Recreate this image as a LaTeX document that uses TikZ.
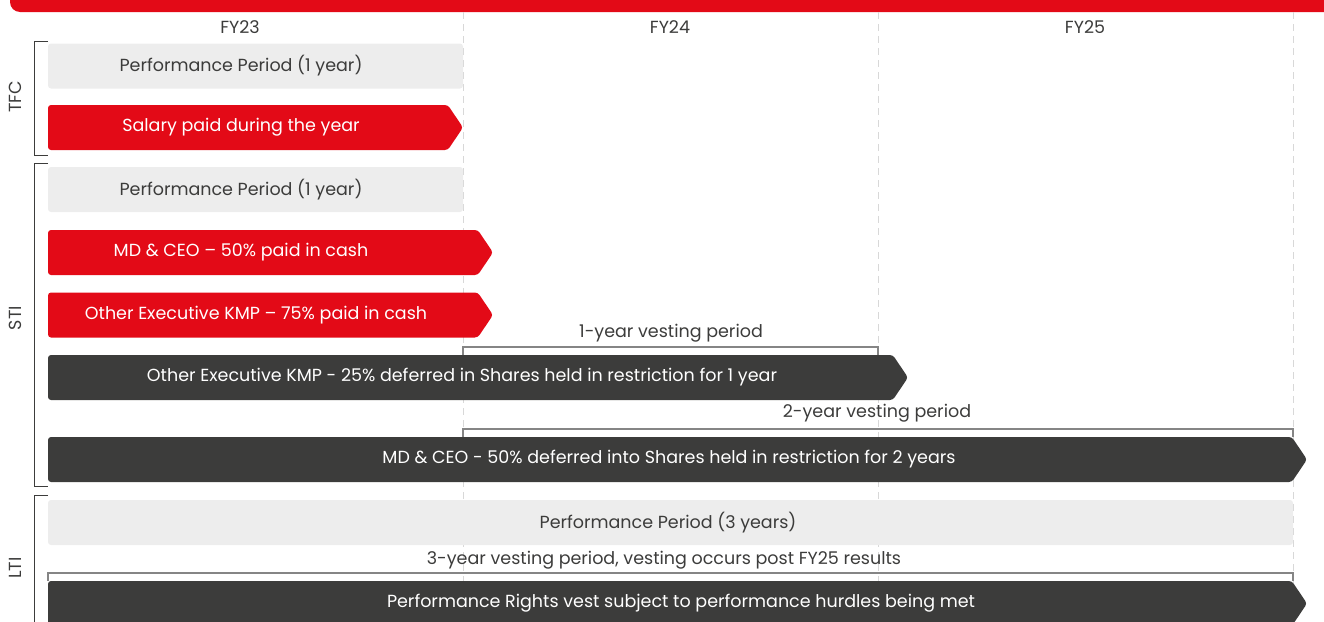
\documentclass[tikz,border=0pt]{standalone}
\usepackage{fontspec}
\setmainfont{Poppins}
\usetikzlibrary{shapes.symbols}
\definecolor{brandred}{HTML}{E30A17}
\definecolor{barDark}{HTML}{3C3C3B}
\definecolor{barLight}{HTML}{EDEDED}
\definecolor{gridGray}{HTML}{D8D8D8}
\definecolor{txtDark}{HTML}{3C3C3B}
\definecolor{vestGray}{HTML}{858585}
\begin{document}
\begin{tikzpicture}[x=1pt,y=-1pt,
  arrowbar/.style={shape=signal, signal to=east, signal pointer angle=112,
    inner sep=0pt, outer sep=0pt, minimum height=45pt, rounded corners=3pt, anchor=west},
  redarrow/.style={arrowbar, fill=brandred},
  darkarrow/.style={arrowbar, fill=barDark},
  greybox/.style={rectangle, fill=barLight, rounded corners=3pt, minimum height=45pt,
    inner sep=0pt, outer sep=0pt, anchor=west},
  lbl/.style={font=\fontsize{17.5}{20}\selectfont, text=txtDark, inner sep=0pt},
  wlbl/.style={font=\fontsize{17.5}{20}\selectfont, text=white, inner sep=0pt},
  grid/.style={draw=gridGray, line width=1pt, dash pattern=on 7pt off 5pt},
  vest/.style={draw=vestGray, line width=1.2pt},
  brack/.style={draw=txtDark, line width=0.9pt},
]
\useasboundingbox (0,0) rectangle (1324,621);
% top banner
\fill[brandred, rounded corners=10pt] (10,-30) -- (10,12) -- (1350,12) -- (1350,-30) -- cycle;
% grid lines
\draw[grid] (463,12) -- (463,621);
\draw[grid] (878,12) -- (878,621);
\draw[grid] (1293,12) -- (1293,621);
% years
\node[lbl] (fy23) at (240,27) {FY23};
\node[lbl] (fy24) at (670,27) {FY24};
\node[lbl] (fy25) at (1085,27) {FY25};
% group brackets
\draw[brack] (48,41) -- (34,41) -- (34,155) -- (48,155);
\draw[brack] (48,163) -- (34,163) -- (34,486) -- (48,486);
\draw[brack] (48,495) -- (34,495) -- (34,640);
\node[lbl, rotate=90] (tfc) at (15,97) {TFC};
\node[lbl, rotate=90] (sti) at (15,318) {STI};
\node[lbl, rotate=90] (lti) at (15,568) {LTI};
% TFC
\node[greybox, minimum width=415pt] (tfcperf) at (48,66) {};
\node[lbl] at (241,66) {Performance Period (1 year)};
\node[redarrow, minimum width=415pt] (salary) at (48,127.5) {};
\node[wlbl] at (241,127.5) {Salary paid during the year};
% STI
\node[greybox, minimum width=415pt] (stiperf) at (48,189.5) {};
\node[lbl] at (241,189.5) {Performance Period (1 year)};
\node[redarrow, minimum width=445pt] (mdcash) at (48,252.5) {};
\node[wlbl] at (241,252.5) {MD \& CEO – 50\% paid in cash};
\node[redarrow, minimum width=445pt] (kmpcash) at (48,315) {};
\node[wlbl] at (256,315) {Other Executive KMP – 75\% paid in cash};
\draw[vest] (463,355) -- (463,347) -- (878,347) -- (878,355);
\node[lbl] (v1) at (671,333) {1-year vesting period};
\node[darkarrow, minimum width=860pt] (kmpdef) at (48,377.5) {};
\node[wlbl] at (462,377.5) {Other Executive KMP - 25\% deferred in Shares held in restriction for 1 year};
\draw[vest] (463,437) -- (463,429) -- (1293,429) -- (1293,437);
\node[lbl] (v2) at (877,413) {2-year vesting period};
\node[darkarrow, minimum width=1259pt] (mddef) at (48,459.5) {};
\node[wlbl] at (669,459.5) {MD \& CEO - 50\% deferred into Shares held in restriction for 2 years};
% LTI
\node[greybox, minimum width=1245pt] (ltiperf) at (48,522.5) {};
\node[lbl] at (668,522.5) {Performance Period (3 years)};
\draw[vest] (48,581) -- (48,573) -- (1293,573) -- (1293,581);
\node[lbl] (v3) at (664,560) {3-year vesting period, vesting occurs post FY25 results};
\node[darkarrow, minimum width=1259pt] (rights) at (48,603.5) {};
\node[wlbl] at (681,603.5) {Performance Rights vest subject to performance hurdles being met};
\end{tikzpicture}
\end{document}
